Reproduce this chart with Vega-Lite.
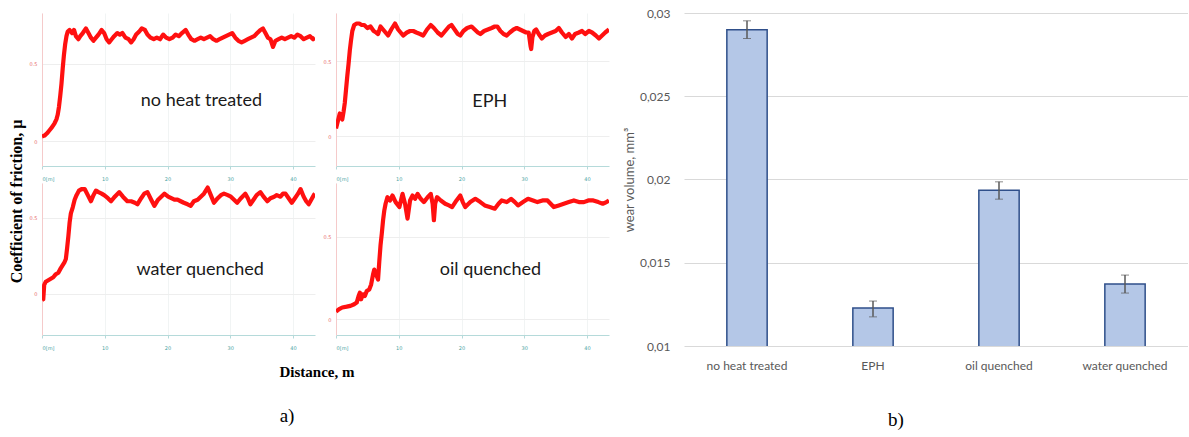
{
  "$schema": "https://vega.github.io/schema/vega-lite/v6.json",
  "padding": {"left": 9, "top": 7, "right": 0, "bottom": 0},
  "config": {"view": {"stroke": null}, "font": "Lato"},
  "datasets": {
    "nht": [
      {"d":0,"mu":0.03},{"d":0.4,"mu":0.035},{"d":0.8,"mu":0.05},{"d":1.2,"mu":0.07},{"d":1.6,"mu":0.09},{"d":2.0,"mu":0.115},
      {"d":2.3,"mu":0.14},{"d":2.5,"mu":0.17},{"d":2.7,"mu":0.22},{"d":2.9,"mu":0.29},{"d":3.1,"mu":0.37},{"d":3.3,"mu":0.47},
      {"d":3.5,"mu":0.56},{"d":3.7,"mu":0.63},{"d":3.9,"mu":0.68},{"d":4.1,"mu":0.71},{"d":4.4,"mu":0.72},{"d":4.8,"mu":0.70},
      {"d":5.1,"mu":0.72},{"d":5.4,"mu":0.68},{"d":5.8,"mu":0.66},{"d":6.1,"mu":0.68},{"d":6.5,"mu":0.70},{"d":7.0,"mu":0.73},
      {"d":7.4,"mu":0.70},{"d":7.8,"mu":0.67},{"d":8.2,"mu":0.65},{"d":8.6,"mu":0.67},{"d":9.0,"mu":0.69},{"d":9.5,"mu":0.72},
      {"d":9.9,"mu":0.70},{"d":10.3,"mu":0.66},{"d":10.7,"mu":0.64},{"d":11.1,"mu":0.66},{"d":11.5,"mu":0.68},{"d":12.0,"mu":0.70},
      {"d":12.4,"mu":0.69},{"d":12.8,"mu":0.70},{"d":13.3,"mu":0.67},{"d":13.8,"mu":0.66},{"d":14.2,"mu":0.64},{"d":14.6,"mu":0.66},
      {"d":15.0,"mu":0.69},{"d":15.5,"mu":0.71},{"d":15.9,"mu":0.73},{"d":16.4,"mu":0.72},{"d":16.8,"mu":0.69},{"d":17.3,"mu":0.67},
      {"d":17.8,"mu":0.66},{"d":18.3,"mu":0.67},{"d":18.8,"mu":0.66},{"d":19.3,"mu":0.69},{"d":19.8,"mu":0.67},{"d":20.3,"mu":0.66},
      {"d":20.8,"mu":0.67},{"d":21.3,"mu":0.69},{"d":21.8,"mu":0.68},{"d":22.3,"mu":0.70},{"d":22.9,"mu":0.72},{"d":23.3,"mu":0.69},
      {"d":23.8,"mu":0.66},{"d":24.3,"mu":0.65},{"d":24.8,"mu":0.66},{"d":25.3,"mu":0.67},{"d":25.8,"mu":0.66},{"d":26.3,"mu":0.67},
      {"d":26.8,"mu":0.68},{"d":27.3,"mu":0.66},{"d":27.8,"mu":0.65},{"d":28.3,"mu":0.66},{"d":28.8,"mu":0.67},{"d":29.3,"mu":0.68},
      {"d":29.8,"mu":0.69},{"d":30.3,"mu":0.70},{"d":30.8,"mu":0.67},{"d":31.3,"mu":0.65},{"d":31.8,"mu":0.64},{"d":32.3,"mu":0.65},
      {"d":32.8,"mu":0.66},{"d":33.3,"mu":0.67},{"d":33.8,"mu":0.68},{"d":34.3,"mu":0.70},{"d":34.8,"mu":0.72},{"d":35.2,"mu":0.73},
      {"d":35.6,"mu":0.70},{"d":36.0,"mu":0.67},{"d":36.4,"mu":0.66},{"d":36.8,"mu":0.61},{"d":37.2,"mu":0.65},{"d":37.7,"mu":0.66},
      {"d":38.2,"mu":0.67},{"d":38.7,"mu":0.66},{"d":39.2,"mu":0.67},{"d":39.7,"mu":0.68},{"d":40.2,"mu":0.67},{"d":40.7,"mu":0.69},
      {"d":41.2,"mu":0.68},{"d":41.7,"mu":0.66},{"d":42.2,"mu":0.67},{"d":42.7,"mu":0.68},{"d":43.2,"mu":0.66},{"d":43.5,"mu":0.67}
    ],
    "eph": [
      {"d":0,"mu":0.05},{"d":0.3,"mu":0.1},{"d":0.6,"mu":0.15},{"d":0.8,"mu":0.13},{"d":1.0,"mu":0.11},{"d":1.2,"mu":0.16},
      {"d":1.4,"mu":0.22},{"d":1.6,"mu":0.31},{"d":1.8,"mu":0.40},{"d":2.0,"mu":0.48},{"d":2.2,"mu":0.57},{"d":2.4,"mu":0.64},
      {"d":2.6,"mu":0.70},{"d":2.9,"mu":0.74},{"d":3.3,"mu":0.75},{"d":3.7,"mu":0.75},{"d":4.1,"mu":0.74},{"d":4.5,"mu":0.74},
      {"d":5.0,"mu":0.72},{"d":5.5,"mu":0.73},{"d":6.0,"mu":0.70},{"d":6.4,"mu":0.69},{"d":6.7,"mu":0.68},{"d":7.1,"mu":0.73},
      {"d":7.5,"mu":0.71},{"d":7.9,"mu":0.69},{"d":8.3,"mu":0.67},{"d":8.8,"mu":0.71},{"d":9.4,"mu":0.75},{"d":9.9,"mu":0.71},
      {"d":10.3,"mu":0.69},{"d":10.7,"mu":0.67},{"d":11.3,"mu":0.69},{"d":11.8,"mu":0.70},{"d":12.3,"mu":0.70},{"d":12.8,"mu":0.69},
      {"d":13.4,"mu":0.68},{"d":13.9,"mu":0.67},{"d":14.5,"mu":0.71},{"d":15.1,"mu":0.74},{"d":15.6,"mu":0.72},{"d":16.2,"mu":0.69},
      {"d":16.8,"mu":0.67},{"d":17.4,"mu":0.70},{"d":18.0,"mu":0.73},{"d":18.4,"mu":0.74},{"d":18.9,"mu":0.71},{"d":19.4,"mu":0.68},
      {"d":19.8,"mu":0.67},{"d":20.3,"mu":0.70},{"d":20.9,"mu":0.72},{"d":21.6,"mu":0.73},{"d":22.1,"mu":0.71},{"d":22.6,"mu":0.69},
      {"d":23.0,"mu":0.68},{"d":23.6,"mu":0.70},{"d":24.2,"mu":0.71},{"d":24.8,"mu":0.72},{"d":25.3,"mu":0.73},{"d":25.7,"mu":0.73},
      {"d":26.2,"mu":0.70},{"d":26.7,"mu":0.68},{"d":27.2,"mu":0.67},{"d":27.7,"mu":0.69},{"d":28.3,"mu":0.71},{"d":28.8,"mu":0.72},
      {"d":29.3,"mu":0.71},{"d":29.8,"mu":0.70},{"d":30.3,"mu":0.69},{"d":30.7,"mu":0.69},{"d":31.0,"mu":0.60},{"d":31.1,"mu":0.58},
      {"d":31.3,"mu":0.66},{"d":31.6,"mu":0.70},{"d":31.9,"mu":0.71},{"d":32.3,"mu":0.68},{"d":32.8,"mu":0.65},{"d":33.3,"mu":0.67},
      {"d":33.8,"mu":0.68},{"d":34.4,"mu":0.69},{"d":35.0,"mu":0.70},{"d":35.5,"mu":0.72},{"d":36.0,"mu":0.69},{"d":36.6,"mu":0.66},
      {"d":37.1,"mu":0.68},{"d":37.6,"mu":0.65},{"d":38.1,"mu":0.68},{"d":38.7,"mu":0.69},{"d":39.2,"mu":0.70},{"d":39.7,"mu":0.68},
      {"d":40.3,"mu":0.70},{"d":40.8,"mu":0.69},{"d":41.4,"mu":0.67},{"d":41.9,"mu":0.65},{"d":42.4,"mu":0.67},{"d":42.9,"mu":0.69},
      {"d":43.5,"mu":0.71}
    ],
    "wq": [
      {"d":0,"mu":-0.04},{"d":0.2,"mu":-0.035},{"d":0.35,"mu":0.06},{"d":0.6,"mu":0.08},{"d":1.0,"mu":0.09},{"d":1.4,"mu":0.10},
      {"d":1.8,"mu":0.11},{"d":2.2,"mu":0.13},{"d":2.6,"mu":0.14},{"d":3.0,"mu":0.17},{"d":3.3,"mu":0.19},{"d":3.6,"mu":0.21},
      {"d":3.8,"mu":0.23},{"d":4.0,"mu":0.30},{"d":4.2,"mu":0.38},{"d":4.4,"mu":0.47},{"d":4.6,"mu":0.53},{"d":4.9,"mu":0.57},
      {"d":5.2,"mu":0.62},{"d":5.5,"mu":0.65},{"d":5.9,"mu":0.68},{"d":6.3,"mu":0.69},{"d":6.8,"mu":0.69},{"d":7.3,"mu":0.65},
      {"d":7.8,"mu":0.61},{"d":8.2,"mu":0.65},{"d":8.6,"mu":0.68},{"d":9.0,"mu":0.67},{"d":9.5,"mu":0.66},{"d":9.9,"mu":0.65},
      {"d":10.5,"mu":0.63},{"d":11.0,"mu":0.61},{"d":11.6,"mu":0.64},{"d":12.3,"mu":0.67},{"d":12.9,"mu":0.64},{"d":13.6,"mu":0.61},
      {"d":14.2,"mu":0.61},{"d":14.8,"mu":0.60},{"d":15.2,"mu":0.59},{"d":15.8,"mu":0.63},{"d":16.3,"mu":0.66},{"d":16.8,"mu":0.67},
      {"d":17.4,"mu":0.62},{"d":17.9,"mu":0.58},{"d":18.5,"mu":0.62},{"d":19.0,"mu":0.64},{"d":19.5,"mu":0.66},{"d":20.1,"mu":0.64},
      {"d":20.6,"mu":0.63},{"d":21.1,"mu":0.62},{"d":21.6,"mu":0.62},{"d":22.1,"mu":0.61},{"d":22.6,"mu":0.60},{"d":23.2,"mu":0.59},
      {"d":23.7,"mu":0.58},{"d":24.2,"mu":0.61},{"d":24.8,"mu":0.62},{"d":25.3,"mu":0.64},{"d":25.8,"mu":0.66},{"d":26.4,"mu":0.70},
      {"d":26.9,"mu":0.65},{"d":27.4,"mu":0.60},{"d":28.0,"mu":0.63},{"d":28.5,"mu":0.65},{"d":29.0,"mu":0.66},{"d":29.6,"mu":0.65},
      {"d":30.1,"mu":0.64},{"d":30.6,"mu":0.62},{"d":31.1,"mu":0.60},{"d":31.7,"mu":0.63},{"d":32.4,"mu":0.66},{"d":32.8,"mu":0.63},
      {"d":33.2,"mu":0.59},{"d":33.7,"mu":0.62},{"d":34.2,"mu":0.65},{"d":34.8,"mu":0.67},{"d":35.3,"mu":0.64},{"d":35.9,"mu":0.61},
      {"d":36.4,"mu":0.63},{"d":37.0,"mu":0.64},{"d":37.4,"mu":0.65},{"d":38.0,"mu":0.64},{"d":38.4,"mu":0.66},{"d":38.8,"mu":0.66},
      {"d":39.3,"mu":0.63},{"d":39.8,"mu":0.60},{"d":40.3,"mu":0.63},{"d":40.8,"mu":0.66},{"d":41.2,"mu":0.69},{"d":41.7,"mu":0.64},
      {"d":42.1,"mu":0.61},{"d":42.5,"mu":0.59},{"d":42.9,"mu":0.62},{"d":43.3,"mu":0.65},{"d":43.5,"mu":0.66}
    ],
    "oq": [
      {"d":0,"mu":0.045},{"d":0.5,"mu":0.06},{"d":1.0,"mu":0.07},{"d":1.7,"mu":0.075},{"d":2.3,"mu":0.08},{"d":2.9,"mu":0.09},
      {"d":3.3,"mu":0.10},{"d":3.6,"mu":0.14},{"d":3.8,"mu":0.16},{"d":4.0,"mu":0.12},{"d":4.3,"mu":0.15},{"d":4.6,"mu":0.14},
      {"d":4.9,"mu":0.17},{"d":5.3,"mu":0.18},{"d":5.6,"mu":0.21},{"d":5.9,"mu":0.27},{"d":6.1,"mu":0.30},{"d":6.4,"mu":0.27},
      {"d":6.7,"mu":0.24},{"d":6.9,"mu":0.35},{"d":7.1,"mu":0.45},{"d":7.3,"mu":0.52},{"d":7.5,"mu":0.60},{"d":7.7,"mu":0.66},
      {"d":7.9,"mu":0.70},{"d":8.2,"mu":0.74},{"d":8.6,"mu":0.72},{"d":9.0,"mu":0.75},{"d":9.5,"mu":0.71},{"d":10.1,"mu":0.68},
      {"d":10.6,"mu":0.76},{"d":11.0,"mu":0.70},{"d":11.4,"mu":0.61},{"d":11.8,"mu":0.72},{"d":12.2,"mu":0.75},{"d":12.6,"mu":0.73},
      {"d":13.0,"mu":0.76},{"d":13.5,"mu":0.73},{"d":14.0,"mu":0.71},{"d":14.6,"mu":0.74},{"d":15.1,"mu":0.76},{"d":15.4,"mu":0.70},
      {"d":15.6,"mu":0.60},{"d":15.8,"mu":0.70},{"d":16.1,"mu":0.74},{"d":16.7,"mu":0.72},{"d":17.4,"mu":0.70},{"d":18.0,"mu":0.69},
      {"d":18.5,"mu":0.68},{"d":19.2,"mu":0.72},{"d":19.8,"mu":0.75},{"d":20.2,"mu":0.71},{"d":20.6,"mu":0.68},{"d":21.4,"mu":0.71},
      {"d":22.2,"mu":0.73},{"d":23.0,"mu":0.71},{"d":23.7,"mu":0.69},{"d":24.5,"mu":0.68},{"d":25.3,"mu":0.67},{"d":25.9,"mu":0.70},
      {"d":26.4,"mu":0.72},{"d":27.2,"mu":0.71},{"d":27.9,"mu":0.73},{"d":28.5,"mu":0.71},{"d":29.0,"mu":0.69},{"d":29.8,"mu":0.71},
      {"d":30.6,"mu":0.73},{"d":31.4,"mu":0.72},{"d":32.1,"mu":0.71},{"d":32.9,"mu":0.72},{"d":33.7,"mu":0.72},{"d":34.2,"mu":0.70},
      {"d":34.7,"mu":0.68},{"d":35.5,"mu":0.69},{"d":36.3,"mu":0.70},{"d":37.1,"mu":0.71},{"d":37.9,"mu":0.72},{"d":38.7,"mu":0.71},
      {"d":39.5,"mu":0.71},{"d":40.2,"mu":0.72},{"d":41.0,"mu":0.72},{"d":41.8,"mu":0.71},{"d":42.5,"mu":0.70},{"d":43.1,"mu":0.71},
      {"d":43.5,"mu":0.72}
    ],
    "wear": [
      {"treatment": "no heat treated", "wear": 0.0290, "lo": 0.02847, "hi": 0.02953},
      {"treatment": "EPH", "wear": 0.01228, "lo": 0.01175, "hi": 0.0127},
      {"treatment": "oil quenched", "wear": 0.01935, "lo": 0.01882, "hi": 0.01986},
      {"treatment": "water quenched", "wear": 0.01372, "lo": 0.01318, "hi": 0.01426}
    ]
  },
  "spacing": 14,
  "hconcat": [
    {
      "title": {"text": "a)", "orient": "bottom", "anchor": "middle", "font": "Liberation Serif", "fontSize": 19, "fontWeight": "normal", "color": "#000000", "offset": 27, "dx": -22},
      "vconcat": [
        {
          "title": {"text": "Coefficient of friction, μ", "orient": "left", "anchor": "middle", "font": "Liberation Serif", "fontSize": 16, "fontWeight": "bold", "color": "#000000", "offset": 4, "dx": -5},
          "vconcat": [
            {
              "title": {"text": "Distance, m", "orient": "bottom", "anchor": "middle", "font": "Liberation Serif", "fontSize": 15, "fontWeight": "bold", "color": "#000000", "offset": 15, "dx": -2},
              "spacing": 2,
              "vconcat": [
                {
                  "bounds": "flush",
                  "spacing": 21,
                  "hconcat": [
                    {
                      "width": 273, "height": 153,
                      "layer": [
                        {
                          "data": {"name": "nht"},
                          "mark": {"type": "line", "color": "#ff1010", "strokeWidth": 4.2, "strokeJoin": "round", "clip": true},
                          "encoding": {
                            "x": {"field": "d", "type": "quantitative", "scale": {"domain": [0, 43.5], "nice": false},
                              "axis": {"title": null, "values": [0,5,10,15,20,25,30,35,40], "labelExpr": "datum.value == 0 ? '0[m]' : (datum.value % 10 == 0 ? datum.label : '')", "labelAlign": {"condition": {"test": "datum.value == 0", "value": "left"}, "value": "center"}, "labelFont": "DejaVu Sans", "labelFontSize": 5, "labelColor": "#4aa3a3", "domainColor": "#b5dada", "tickColor": "#b5dada", "tickSize": 3, "labelPadding": 7, "gridColor": "#f1f4f4"}},
                            "y": {"field": "mu", "type": "quantitative", "scale": {"domain": [-0.162, 0.83], "nice": false, "zero": false},
                              "axis": {"title": null, "values": [0, 0.5], "format": "~g", "labelFont": "DejaVu Sans", "labelFontSize": 5, "labelColor": "#e86a6a", "domainColor": "#f5caca", "ticks": false, "labelPadding": 5, "gridColor": "#eeeeee"}}
                          }
                        },
                        {
                          "data": {"values": [{"label": "no heat treated"}]},
                          "mark": {"type": "text", "font": "Lato", "fontSize": 18, "color": "#1a1a1a", "baseline": "middle"},
                          "encoding": {"x": {"datum": 25.4, "type": "quantitative"}, "y": {"datum": 0.26, "type": "quantitative"}, "text": {"field": "label"}}
                        }
                      ]
                    },
                    {
                      "width": 273, "height": 153,
                      "layer": [
                        {
                          "data": {"name": "eph"},
                          "mark": {"type": "line", "color": "#ff1010", "strokeWidth": 4.2, "strokeJoin": "round", "clip": true},
                          "encoding": {
                            "x": {"field": "d", "type": "quantitative", "scale": {"domain": [0, 43.5], "nice": false},
                              "axis": {"title": null, "values": [0,5,10,15,20,25,30,35,40], "labelExpr": "datum.value == 0 ? '0[m]' : (datum.value % 10 == 0 ? datum.label : '')", "labelAlign": {"condition": {"test": "datum.value == 0", "value": "left"}, "value": "center"}, "labelFont": "DejaVu Sans", "labelFontSize": 5, "labelColor": "#4aa3a3", "domainColor": "#b5dada", "tickColor": "#b5dada", "tickSize": 3, "labelPadding": 7, "gridColor": "#f1f4f4"}},
                            "y": {"field": "mu", "type": "quantitative", "scale": {"domain": [-0.2, 0.82], "nice": false, "zero": false},
                              "axis": {"title": null, "values": [0, 0.5], "format": "~g", "labelFont": "DejaVu Sans", "labelFontSize": 5, "labelColor": "#e86a6a", "domainColor": "#f5caca", "ticks": false, "labelPadding": 5, "gridColor": "#eeeeee"}}
                          }
                        },
                        {
                          "data": {"values": [{"label": "EPH"}]},
                          "mark": {"type": "text", "font": "Lato", "fontSize": 18, "color": "#1a1a1a", "baseline": "middle"},
                          "encoding": {"x": {"datum": 24.5, "type": "quantitative"}, "y": {"datum": 0.23, "type": "quantitative"}, "text": {"field": "label"}}
                        }
                      ]
                    }
                  ]
                },
                {
                  "bounds": "flush",
                  "spacing": 21,
                  "hconcat": [
                    {
                      "width": 273, "height": 152,
                      "layer": [
                        {
                          "data": {"name": "wq"},
                          "mark": {"type": "line", "color": "#ff1010", "strokeWidth": 4.2, "strokeJoin": "round", "clip": true},
                          "encoding": {
                            "x": {"field": "d", "type": "quantitative", "scale": {"domain": [0, 43.5], "nice": false},
                              "axis": {"title": null, "values": [0,5,10,15,20,25,30,35,40], "labelExpr": "datum.value == 0 ? '0[m]' : (datum.value % 10 == 0 ? datum.label : '')", "labelAlign": {"condition": {"test": "datum.value == 0", "value": "left"}, "value": "center"}, "labelFont": "DejaVu Sans", "labelFontSize": 5, "labelColor": "#4aa3a3", "domainColor": "#b5dada", "tickColor": "#b5dada", "tickSize": 3, "labelPadding": 7, "gridColor": "#f1f4f4"}},
                            "y": {"field": "mu", "type": "quantitative", "scale": {"domain": [-0.27, 0.73], "nice": false, "zero": false},
                              "axis": {"title": null, "values": [0, 0.5], "format": "~g", "labelFont": "DejaVu Sans", "labelFontSize": 5, "labelColor": "#e86a6a", "domainColor": "#f5caca", "ticks": false, "labelPadding": 5, "gridColor": "#eeeeee"}}
                          }
                        },
                        {
                          "data": {"values": [{"label": "water quenched"}]},
                          "mark": {"type": "text", "font": "Lato", "fontSize": 18, "color": "#1a1a1a", "baseline": "middle"},
                          "encoding": {"x": {"datum": 25.2, "type": "quantitative"}, "y": {"datum": 0.16, "type": "quantitative"}, "text": {"field": "label"}}
                        }
                      ]
                    },
                    {
                      "width": 273, "height": 152,
                      "layer": [
                        {
                          "data": {"name": "oq"},
                          "mark": {"type": "line", "color": "#ff1010", "strokeWidth": 4.2, "strokeJoin": "round", "clip": true},
                          "encoding": {
                            "x": {"field": "d", "type": "quantitative", "scale": {"domain": [0, 43.5], "nice": false},
                              "axis": {"title": null, "values": [0,5,10,15,20,25,30,35,40], "labelExpr": "datum.value == 0 ? '0[m]' : (datum.value % 10 == 0 ? datum.label : '')", "labelAlign": {"condition": {"test": "datum.value == 0", "value": "left"}, "value": "center"}, "labelFont": "DejaVu Sans", "labelFontSize": 5, "labelColor": "#4aa3a3", "domainColor": "#b5dada", "tickColor": "#b5dada", "tickSize": 3, "labelPadding": 7, "gridColor": "#f1f4f4"}},
                            "y": {"field": "mu", "type": "quantitative", "scale": {"domain": [-0.097, 0.826], "nice": false, "zero": false},
                              "axis": {"title": null, "values": [0, 0.5], "format": "~g", "labelFont": "DejaVu Sans", "labelFontSize": 5, "labelColor": "#e86a6a", "domainColor": "#f5caca", "ticks": false, "labelPadding": 5, "gridColor": "#eeeeee"}}
                          }
                        },
                        {
                          "data": {"values": [{"label": "oil quenched"}]},
                          "mark": {"type": "text", "font": "Lato", "fontSize": 18, "color": "#1a1a1a", "baseline": "middle"},
                          "encoding": {"x": {"datum": 24.6, "type": "quantitative"}, "y": {"datum": 0.30, "type": "quantitative"}, "text": {"field": "label"}}
                        }
                      ]
                    }
                  ]
                }
              ]
            }
          ]
        }
      ]
    },
    {
      "width": 504,
      "height": 333,
      "title": {"text": "b)", "orient": "bottom", "anchor": "middle", "font": "Liberation Serif", "fontSize": 19, "fontWeight": "normal", "color": "#000000", "offset": 40, "dx": -40},
      "data": {"name": "wear"},
      "encoding": {
        "x": {"field": "treatment", "type": "nominal", "sort": null,
          "scale": {"paddingInner": 0.68, "paddingOuter": 0.34},
          "axis": {"title": null, "labelAngle": 0, "ticks": false, "domain": false, "labelFont": "Lato", "labelFontSize": 12, "labelColor": "#595959", "labelPadding": 14}}
      },
      "layer": [
        {
          "mark": {"type": "bar", "fill": "#b4c7e7", "stroke": "#2f4f8a", "strokeWidth": 1.5, "clip": true},
          "encoding": {
            "y": {"field": "wear", "type": "quantitative", "scale": {"domain": [0.01, 0.03], "nice": false, "zero": false},
              "axis": {"title": "wear volume, mm³", "values": [0.01, 0.015, 0.02, 0.025, 0.03], "labelExpr": "replace(format(datum.value, '.3~f'), '.', ',')", "domain": false, "ticks": false, "gridColor": "#d9d9d9", "labelFont": "Lato", "labelFontSize": 12, "labelColor": "#595959", "labelPadding": 14, "titleFont": "Lato", "titleFontSize": 13, "titleFontWeight": "normal", "titleColor": "#595959", "titlePadding": 3}}
          }
        },
        {
          "mark": {"type": "errorbar", "ticks": {"size": 8, "color": "#595959", "strokeWidth": 1.5}, "rule": {"color": "#595959", "strokeWidth": 1.5}},
          "encoding": {
            "y": {"field": "lo", "type": "quantitative", "title": "wear volume, mm³"},
            "y2": {"field": "hi"}
          }
        }
      ]
    }
  ]
}
